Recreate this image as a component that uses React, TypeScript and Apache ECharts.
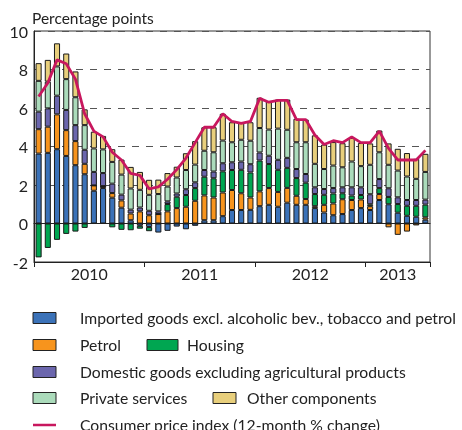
import React, { useEffect, useRef } from 'react';
import * as echarts from 'echarts';

const months = [
  '2010-01', '2010-02', '2010-03', '2010-04', '2010-05', '2010-06', '2010-07', '2010-08', '2010-09', '2010-10', '2010-11', '2010-12',
  '2011-01', '2011-02', '2011-03', '2011-04', '2011-05', '2011-06', '2011-07', '2011-08', '2011-09', '2011-10', '2011-11', '2011-12',
  '2012-01', '2012-02', '2012-03', '2012-04', '2012-05', '2012-06', '2012-07', '2012-08', '2012-09', '2012-10', '2012-11', '2012-12',
  '2013-01', '2013-02', '2013-03', '2013-04', '2013-05', '2013-06', '2013-07',
];
const yearLabels = ['2010', '2011', '2012', '2013'];

const imported = [
  3.63, 3.67, 3.86, 3.51, 3.03, 2.56, 1.7, 1.84, 1.34, 0.82, 0.17, -0.12,
  -0.18, -0.47, -0.38, -0.16, -0.3, -0.12, 0.17, 0.17, 0.38, 0.7, 0.7, 0.71,
  0.9, 0.97, 0.87, 1.08, 0.97, 0.97, 0.8, 0.57, 0.43, 0.49, 0.7, 0.8,
  0.7, 1.22, 1.0, 0.56, 0.4, 0.35, 0.2,
];
const petrol = [
  1.27, 1.36, 1.81, 1.34, 1.25, 0.54, 0.28, 0.1, 0.24, 0.38, 0.35, 0.63,
  0.43, 0.49, 0.63, 0.8, 0.87, 1.18, 1.29, 1.18, 1.23, 1.04, 0.87, 0.64,
  0.77, 0.87, 0.77, 0.77, 0.47, 0.3, 0.1, 0.4, 0.61, 0.77, 0.52, 0.45,
  0.2, 0.31, -0.2, -0.59, -0.42, -0.1, 0.12,
];
const housing = [
  -1.76, -1.27, -0.85, -0.54, -0.42, -0.23, 0, 0, -0.2, -0.33, -0.35, -0.15,
  -0.22, 0, 0.38, 0.59, 0.61, 0.66, 0.97, 1.0, 1.1, 1.04, 1.22, 1.3,
  1.6, 1.25, 1.15, 1.04, 0.92, 0.85, 0.63, 0.52, 0.52, 0.31, 0.23, 0.23,
  0.1, 0.31, 0.38, 0.45, 0.52, 0.57, 0.66,
];
const domestic = [
  0.91, 0.95, 0.97, 1.05, 0.83, 0.73, 0.7, 0.68, 0.49, 0.3, 0.2, 0.2,
  0.23, 0.14, 0.14, 0.17, 0.3, 0.3, 0.35, 0.35, 0.42, 0.4, 0.43, 0.43,
  0.42, 0.43, 0.52, 0.52, 0.47, 0.45, 0.35, 0.3, 0.28, 0.31, 0.43, 0.4,
  0.52, 0.47, 0.45, 0.35, 0.3, 0.3, 0.26,
];
const privateServices = [
  1.6, 1.39, 1.52, 1.6, 1.45, 1.28, 1.22, 1.23, 1.13, 1.04, 1.1, 0.92,
  0.83, 0.9, 0.77, 0.83, 1.0, 0.92, 1.0, 1.0, 1.18, 1.04, 1.13, 1.22,
  1.27, 1.36, 1.62, 1.46, 1.39, 1.65, 1.22, 1.04, 1.17, 1.04, 1.34, 1.1,
  1.53, 1.39, 1.22, 1.39, 1.22, 1.1, 1.44,
];
const otherComponents = [
  0.92, 1.13, 1.2, 1.33, 1.34, 0.82, 0.87, 0.7, 0.66, 0.78, 1.12, 0.93,
  0.78, 0.75, 0.7, 0.56, 0.87, 1.22, 1.22, 1.3, 1.39, 1.04, 0.87, 0.96,
  1.57, 1.46, 1.51, 1.57, 1.22, 1.18, 1.48, 1.27, 1.22, 1.25, 1.23, 1.2,
  1.11, 1.13, 1.11, 1.13, 1.22, 1.04, 0.94,
];
const cpi = [
  6.6, 7.3, 8.5, 8.3, 7.5, 5.7, 4.8, 4.5, 3.7, 3.3, 2.6, 2.5,
  1.8, 1.9, 2.3, 2.8, 3.4, 4.2, 5.0, 5.0, 5.7, 5.3, 5.2, 5.3,
  6.5, 6.3, 6.4, 6.4, 5.4, 5.4, 4.6, 4.1, 4.3, 4.2, 4.5, 4.2,
  4.2, 4.8, 3.9, 3.3, 3.3, 3.3, 3.8,
];

const seriesNames = [
  'Imported goods excl. alcoholic bev., tobacco and petrol',
  'Petrol',
  'Housing',
  'Domestic goods excluding agricultural products',
  'Private services',
  'Other components',
];
const cpiName = 'Consumer price index (12-month % change)';
const yAxisTitle = 'Percentage points';

const FONT = 'Lato';
const colors = ['#3b72b8', '#f7941d', '#00a651', '#6b66ad', '#abdbbb', '#e8cf7c'];
const lineColor = '#c8175e';

export default function App() {
  const ref = useRef<HTMLDivElement>(null);
  useEffect(() => {
    const chart = echarts.init(ref.current!, null, { renderer: 'svg' });
    const stacks = [imported, petrol, housing, domestic, privateServices, otherComponents];

    // helper axis of half-month points for year labels and year ticks
    const nPts = months.length * 2 + 1;
    const halfPts = Array.from({ length: nPts }, (_, i) => 'p' + i);
    const labelAt: Record<number, string> = {};
    const tickAt = new Set<number>();
    let start = 0;
    yearLabels.forEach((y) => {
      const cnt = months.filter((m) => m.startsWith(y)).length;
      tickAt.add(start * 2);
      labelAt[start * 2 + cnt] = y;
      start += cnt;
    });
    tickAt.add(start * 2);

    const txt = { fontFamily: FONT, fontSize: 15.7, fill: '#222' };
    const graphic: any[] = [
      { type: 'text', left: 32, top: 10, style: { ...txt, fontSize: 15.5, text: yAxisTitle } },
    ];
    const sw = (x: number, y: number, w: number, c: string) => ({
      type: 'rect', shape: { x, y: y - 5.5, width: w, height: 11 },
      style: { fill: c, stroke: '#222', lineWidth: 1 },
    });
    const tx = (x: number, y: number, t: string) => ({
      type: 'text', x, y, style: { ...txt, text: t, textVerticalAlign: 'middle', verticalAlign: 'middle' },
    });
    graphic.push(sw(33, 318, 23, colors[0]), tx(80, 318, seriesNames[0]));
    graphic.push(sw(33, 345, 23, colors[1]), tx(80, 345, seriesNames[1]));
    graphic.push(sw(147, 345, 31, colors[2]), tx(187, 345, seriesNames[2]));
    graphic.push(sw(33, 372, 23, colors[3]), tx(80, 372, seriesNames[3]));
    graphic.push(sw(33, 398, 23, colors[4]), tx(80, 398, seriesNames[4]));
    graphic.push(sw(213, 398, 23, colors[5]), tx(247, 398, seriesNames[5]));
    graphic.push({
      type: 'line', shape: { x1: 33, y1: 425, x2: 56, y2: 425 },
      style: { stroke: lineColor, lineWidth: 2.5 },
    }, tx(80, 425, cpiName));

    const option: any = {
      animation: false,
      grid: { left: 34, right: 32, top: 31, bottom: 168, show: true, borderColor: '#333', borderWidth: 1, containLabel: false },
      xAxis: [
        {
          type: 'category', data: months, position: 'bottom',
          axisLine: { show: true, onZero: true, lineStyle: { color: '#222', width: 1.2 } },
          axisTick: { show: false }, axisLabel: { show: false }, splitLine: { show: false },
        },
        {
          type: 'category', data: halfPts, boundaryGap: false, position: 'bottom',
          axisLine: { show: true, onZero: false, lineStyle: { color: '#222', width: 1 } },
          axisTick: { show: true, length: 5, interval: (i: number) => tickAt.has(i), lineStyle: { color: '#222' } },
          axisLabel: {
            show: true, interval: (i: number) => labelAt[i] !== undefined,
            formatter: (_v: string, i: number) => labelAt[i] || '',
            fontFamily: FONT, fontSize: 16, color: '#222', margin: 3,
          },
          splitLine: { show: false },
        },
      ],
      yAxis: {
        type: 'value', min: -2, max: 10, interval: 2,
        axisLine: { show: true, lineStyle: { color: '#222' } },
        axisTick: { show: false },
        axisLabel: { fontFamily: FONT, fontSize: 16, color: '#222', margin: 6 },
        splitLine: { show: true, lineStyle: { color: '#555', type: [7, 7], width: 1.2 } },
      },
      graphic,
      series: [
        ...stacks.map((d, k) => ({
          name: seriesNames[k], type: 'bar', stack: 'total', data: d, xAxisIndex: 0,
          barCategoryGap: '34%',
          itemStyle: { color: colors[k], borderColor: '#1a1a1a', borderWidth: 1 },
        })),
        {
          name: cpiName, type: 'line', data: cpi, xAxisIndex: 0, symbol: 'none', z: 10,
          lineStyle: { color: lineColor, width: 2.8 },
        },
      ],
    };
    chart.setOption(option);
    return () => chart.dispose();
  }, []);
  return <div ref={ref} style={{ position: 'fixed', left: 0, top: 0, width: 462, height: 430 }} />;
}
